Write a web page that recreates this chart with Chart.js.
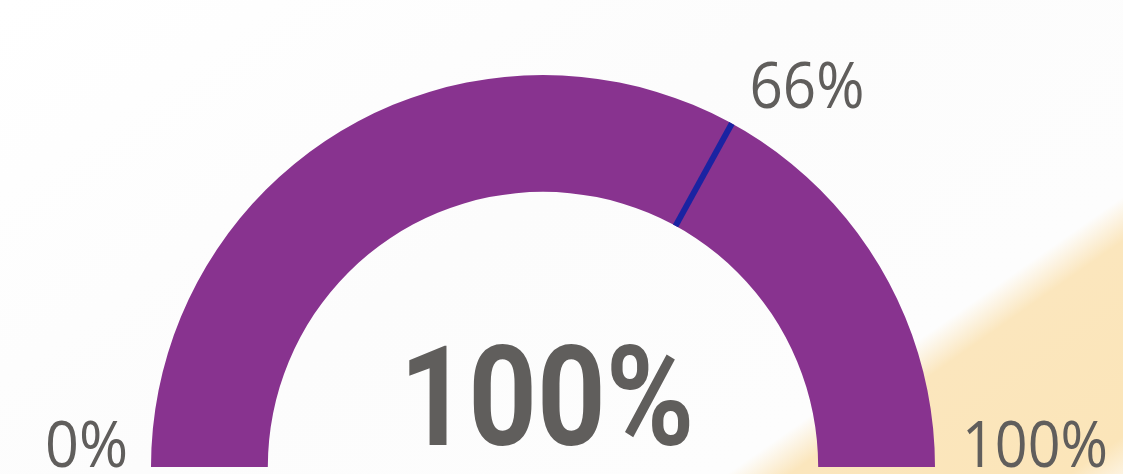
<!DOCTYPE html>
<html><head><meta charset="utf-8">
<script src="https://cdn.jsdelivr.net/npm/chart.js@4.4.1/dist/chart.umd.min.js"></script>
<style>
html,body{margin:0;padding:0;}
body{width:1123px;height:474px;overflow:hidden;
background:linear-gradient(145deg,#ffffff 0%,#fcfcfc 45%,#fdfdfd 78%,#fbe6bd 81.5%,#fbe5b9 97%,#fdf3e0 100%);}
#wrap{position:relative;width:1123px;height:474px;}
</style></head>
<body><div id="wrap"><canvas id="c" width="1123" height="474"></canvas></div>
<script>
const minValue = 0;
const maxValue = 100;
const gaugeValue = 100;
const targetValue = 66;
const labelMin = "0%";
const labelMax = "100%";
const labelTarget = "66%";
const labelCenter = "100%";
const segmentColors = ["#88338F", "#E6E6E6"];

const gaugeData = [gaugeValue - minValue, maxValue - gaugeValue];

function fitText(ctx, text, x, y, font, targetW, align) {
  ctx.save();
  ctx.font = font;
  const w = ctx.measureText(text).width;
  const s = targetW / w;
  ctx.translate(x, y);
  ctx.scale(s, 1);
  ctx.textAlign = align;
  ctx.textBaseline = "alphabetic";
  ctx.fillText(text, 0, 0);
  ctx.restore();
}

const gaugePlugin = {
  id: "gaugeExtras",
  afterDatasetsDraw(chart) {
    const arc = chart.getDatasetMeta(0).data[0];
    if (!arc) return;
    const {x, y, innerRadius, outerRadius} = arc.getProps(["x","y","innerRadius","outerRadius"], true);
    const ctx = chart.ctx;
    const frac = (targetValue - minValue) / (maxValue - minValue);
    const ang = Math.PI + frac * Math.PI;
    const c = Math.cos(ang), s = Math.sin(ang);
    ctx.save();
    ctx.strokeStyle = "#1A23A2";
    ctx.lineWidth = 6;
    ctx.beginPath();
    ctx.moveTo(x + innerRadius * c, y + innerRadius * s);
    ctx.lineTo(x + outerRadius * c, y + outerRadius * s);
    ctx.stroke();
    ctx.restore();
    ctx.fillStyle = "#605E5C";
    const f = "400 64px 'Open Sans'";
    fitText(ctx, labelMin, x - outerRadius - 23, y, f, 83, "right");
    fitText(ctx, labelMax, x + outerRadius + 27, y, f, 146, "left");
    fitText(ctx, labelTarget, x + (outerRadius + 20) * c + 8, y + (outerRadius + 20) * s + 2, f, 115, "left");
    fitText(ctx, labelCenter, x + 4, y - 22, "bold 140px Roboto", 295, "center");
  }
};

new Chart(document.getElementById("c"), {
  type: "doughnut",
  data: {
    labels: ["Value", "Remaining"],
    datasets: [{
      data: gaugeData,
      backgroundColor: segmentColors,
      borderWidth: 0
    }]
  },
  options: {
    responsive: false,
    animation: false,
    rotation: -90,
    circumference: 180,
    cutout: "70.2%",
    layout: {padding: {top: 75, bottom: 7, left: 100, right: 137}},
    plugins: {legend: {display: false}, tooltip: {enabled: false}}
  },
  plugins: [gaugePlugin]
});
</script>
</body></html>
